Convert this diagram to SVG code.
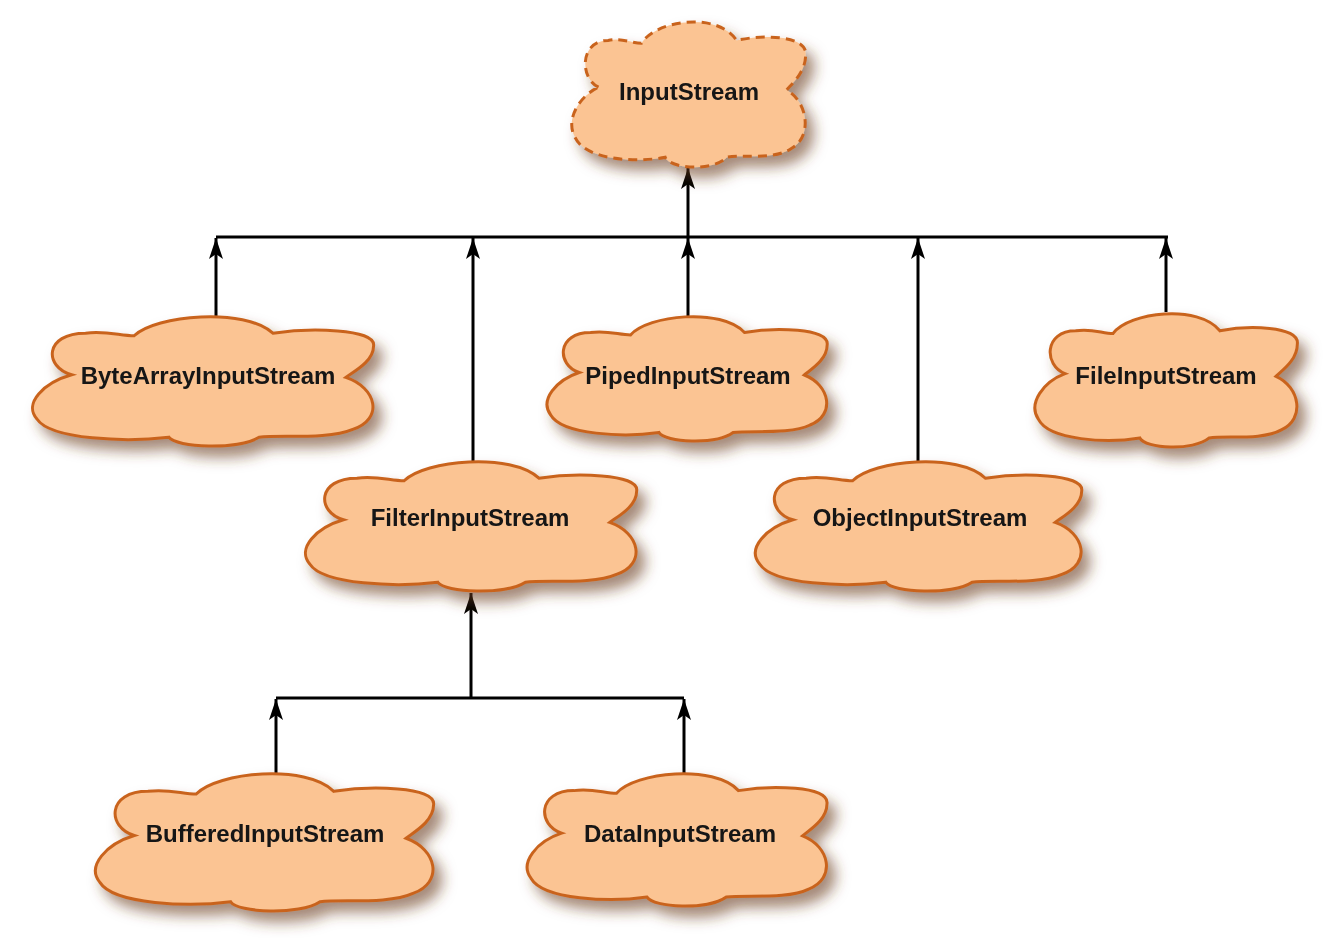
<svg xmlns="http://www.w3.org/2000/svg" width="1330" height="938" viewBox="0 0 1330 938">
<style>
.cloud{fill:#fbc493;stroke:#c9641f;stroke-width:3}
.dash{stroke-dasharray:9 6}
.lbl{font-family:"Liberation Sans",Arial,sans-serif;font-weight:bold;font-size:24px;fill:#151515;text-anchor:middle;dominant-baseline:central}
.ln{stroke:#000;stroke-width:3;fill:none}
.arr{stroke:#000;stroke-width:3;fill:none;marker-end:url(#ah)}
</style>
<defs>
<filter id="sh" x="-20%" y="-20%" width="150%" height="170%">
<feDropShadow dx="8" dy="10" stdDeviation="7" flood-color="#6b3a22" flood-opacity="0.6"/>
</filter>
<marker id="ah" markerUnits="userSpaceOnUse" markerWidth="24" markerHeight="16" refX="0" refY="0" viewBox="-23 -8 24 16" orient="auto">
<path d="M0,0 L-21,-7 L-16,0 L-21,7 Z" fill="#000"/>
</marker>
<path id="cl" vector-effect="non-scaling-stroke" d="M 12,46 C 4,40 4,14 16,14 C 22,12 26,16 30,16 C 36,0 62,-6 70,14 C 80,10 100,10 99,24 C 99,36 93,44 91,48 C 100,56 102,80 93,88 C 86,96 72,92 66,94 C 60,104 42,102 40,94 C 28,98 6,96 2,80 C -2,68 4,52 12,46 Z"/>
</defs>
<g id="connectors">
<line class="ln" x1="216" y1="237" x2="1168" y2="237"/>
<line class="arr" x1="688" y1="237" x2="688" y2="168"/>
<line class="arr" x1="216" y1="316" x2="216" y2="238"/>
<line class="arr" x1="473" y1="462" x2="473" y2="238"/>
<line class="arr" x1="688" y1="316" x2="688" y2="238"/>
<line class="arr" x1="918" y1="462" x2="918" y2="238"/>
<line class="arr" x1="1166" y1="312" x2="1166" y2="238"/>
<line class="ln" x1="276" y1="698" x2="684" y2="698"/>
<line class="arr" x1="471" y1="698" x2="471" y2="593"/>
<line class="arr" x1="276" y1="774" x2="276" y2="699"/>
<line class="arr" x1="684" y1="774" x2="684" y2="699"/>
</g>
<g id="InputStream" filter="url(#sh)">
<use href="#cl" class="cloud dash" transform="translate(570,20) scale(2.38,1.46)"/>
<text class="lbl" x="689" y="91">InputStream</text>
</g>
<g id="ByteArrayInputStream" filter="url(#sh)">
<use href="#cl" class="cloud" transform="translate(30,315) scale(3.47,1.3)"/>
<text class="lbl" x="208" y="375">ByteArrayInputStream</text>
</g>
<g id="PipedInputStream" filter="url(#sh)">
<use href="#cl" class="cloud" transform="translate(545,315) scale(2.85,1.25)"/>
<text class="lbl" x="688" y="375">PipedInputStream</text>
</g>
<g id="FileInputStream" filter="url(#sh)">
<use href="#cl" class="cloud" transform="translate(1033,312) scale(2.67,1.34)"/>
<text class="lbl" x="1166" y="375">FileInputStream</text>
</g>
<g id="FilterInputStream" filter="url(#sh)">
<use href="#cl" class="cloud" transform="translate(303,460) scale(3.37,1.3)"/>
<text class="lbl" x="470" y="517">FilterInputStream</text>
</g>
<g id="ObjectInputStream" filter="url(#sh)">
<use href="#cl" class="cloud" transform="translate(753,460) scale(3.32,1.3)"/>
<text class="lbl" x="920" y="517">ObjectInputStream</text>
</g>
<g id="BufferedInputStream" filter="url(#sh)">
<use href="#cl" class="cloud" transform="translate(93,772) scale(3.44,1.38)"/>
<text class="lbl" x="265" y="833">BufferedInputStream</text>
</g>
<g id="DataInputStream" filter="url(#sh)">
<use href="#cl" class="cloud" transform="translate(525,772) scale(3.05,1.33)"/>
<text class="lbl" x="680" y="833">DataInputStream</text>
</g>
</svg>
